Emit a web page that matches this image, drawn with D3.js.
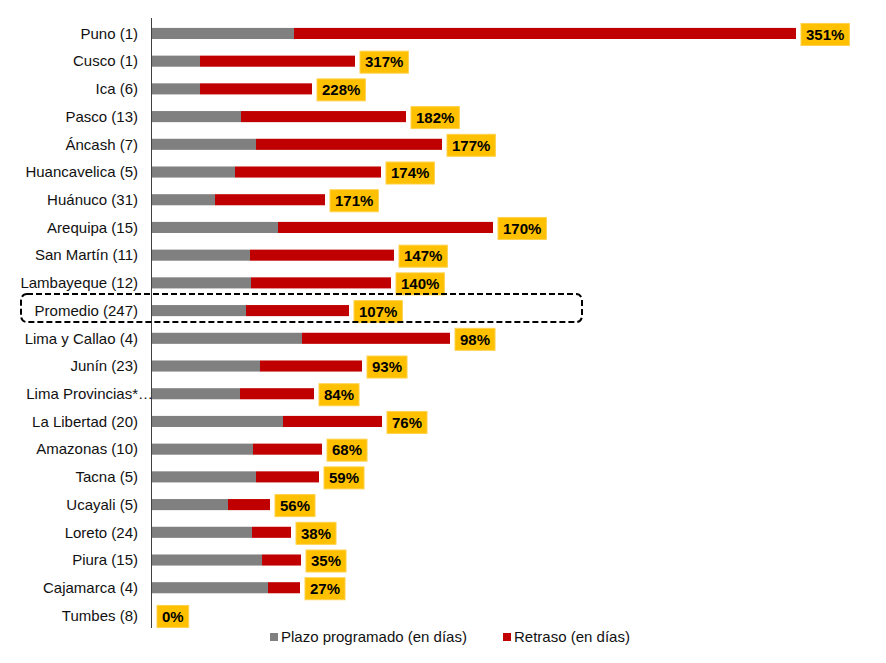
<!DOCTYPE html>
<html>
<head>
<meta charset="utf-8">
<script src="https://cdn.jsdelivr.net/npm/d3@7/dist/d3.min.js"></script>
<style>
  body { margin: 0; background: #fff; }
  svg text { font-family: Arial, "Liberation Sans", sans-serif; }
</style>
</head>
<body>
<svg id="chart" width="886" height="663"></svg>
<script>
'use strict';

// regiones (número de obras)
const regiones = ['Puno (1)', 'Cusco (1)', 'Ica (6)', 'Pasco (13)', 'Áncash (7)',
    'Huancavelica (5)', 'Huánuco (31)', 'Arequipa (15)', 'San Martín (11)',
    'Lambayeque (12)', 'Promedio (247)', 'Lima y Callao (4)', 'Junín (23)',
    'Lima Provincias*…', 'La Libertad (20)', 'Amazonas (10)', 'Tacna (5)',
    'Ucayali (5)', 'Loreto (24)', 'Piura (15)', 'Cajamarca (4)', 'Tumbes (8)'];

// plazo programado (en días)
const plazo = [142, 48, 48, 89, 104, 83, 63, 126, 98, 99, 94, 150, 108, 88,
    131, 101, 104, 76, 100, 110, 116, 0];

// retraso (en días)
const retraso = [502, 155, 112, 165, 186, 146, 110, 215, 144, 140, 103, 148,
    102, 74, 99, 69, 63, 42, 39, 39, 32, 0];

// retraso respecto al plazo (%)
const porcentaje = [351, 317, 228, 182, 177, 174, 171, 170, 147, 140, 107, 98,
    93, 84, 76, 68, 59, 56, 38, 35, 27, 0];

const series = ['Plazo programado (en días)', 'Retraso (en días)'];
const colores = ['#808080', '#C00000'];

const svg = d3.select('#chart');

const datos = regiones.map((r, i) => ({
    region: r, plazo: plazo[i], retraso: retraso[i], pct: porcentaje[i]
}));

const x = d3.scaleLinear()
    .domain([0, 644])
    .range([152, 796]);

const y = d3.scaleBand()
    .domain(regiones)
    .range([19.6, 629.3])
    .paddingInner(0.6)
    .paddingOuter(0.3);

/**
 * Barras apiladas
 */
const stack = d3.stack().keys(['plazo', 'retraso'])(datos);

svg.append('g')
    .selectAll('g')
    .data(stack)
    .join('g')
    .attr('fill', (d, i) => colores[i])
    .selectAll('rect')
    .data(d => d)
    .join('rect')
    .attr('x', d => x(d[0]))
    .attr('y', d => y(d.data.region))
    .attr('width', d => x(d[1]) - x(d[0]))
    .attr('height', y.bandwidth());

/**
 * Eje vertical
 */
svg.append('line')
    .attr('x1', x(0) - 0.5)
    .attr('x2', x(0) - 0.5)
    .attr('y1', 18)
    .attr('y2', 628)
    .style('stroke', '#404040')
    .style('stroke-width', 1);

/**
 * Etiquetas de categoría
 */
const etiquetas = svg.append('g');
datos.forEach(d => {
    const cy = y(d.region) + y.bandwidth() / 2;
    const corta = d.region.endsWith('…');
    etiquetas.append('text')
        .attr('x', 138)
        .attr('y', cy)
        .attr('dy', '0.35em')
        .attr('text-anchor', 'end')
        .style('font-size', '15px')
        .style('fill', '#111')
        .text(corta ? d.region.slice(0, -1) : d.region);
    if (corta) {
        etiquetas.append('text')
            .attr('x', 138)
            .attr('y', cy)
            .attr('dy', '0.35em')
            .style('font-size', '15px')
            .style('fill', '#111')
            .text('…');
    }
});

/**
 * Etiquetas de porcentaje con fondo amarillo
 */
const pcts = svg.append('g');
datos.forEach(d => {
    const cy = y(d.region) + y.bandwidth() / 2;
    const x0 = x(d.plazo + d.retraso) + 5;
    const g = pcts.append('g');
    const box = g.append('rect')
        .attr('fill', '#FFC000')
        .attr('stroke', '#FFD24D')
        .attr('stroke-width', 1);
    const t = g.append('text')
        .attr('x', x0 + 5)
        .attr('y', cy + 1)
        .attr('dy', '0.35em')
        .style('font-size', '15px')
        .style('font-weight', 'bold')
        .style('fill', '#000')
        .text(d.pct + '%');
    const w = t.node().getComputedTextLength();
    box.attr('x', x0)
        .attr('y', cy - 10)
        .attr('width', w + 10)
        .attr('height', 22);
});

/**
 * Recuadro del promedio
 */
const yProm = y('Promedio (247)') + y.bandwidth() / 2;
svg.append('rect')
    .attr('x', 21)
    .attr('y', yProm - 16.5)
    .attr('width', 561)
    .attr('height', 28)
    .attr('rx', 6)
    .attr('fill', 'none')
    .style('stroke', '#000')
    .style('stroke-width', 2)
    .style('stroke-dasharray', '6 3');

/**
 * Leyenda
 */
const leyendaX = [270, 503];
const leyenda = svg.append('g');
series.forEach((s, i) => {
    leyenda.append('rect')
        .attr('x', leyendaX[i])
        .attr('y', 633)
        .attr('width', 8)
        .attr('height', 8)
        .attr('fill', colores[i]);
    leyenda.append('text')
        .attr('x', leyendaX[i] + 11)
        .attr('y', 637)
        .attr('dy', '0.35em')
        .style('font-size', '15px')
        .style('fill', '#111')
        .text(s);
});
</script>
</body>
</html>
